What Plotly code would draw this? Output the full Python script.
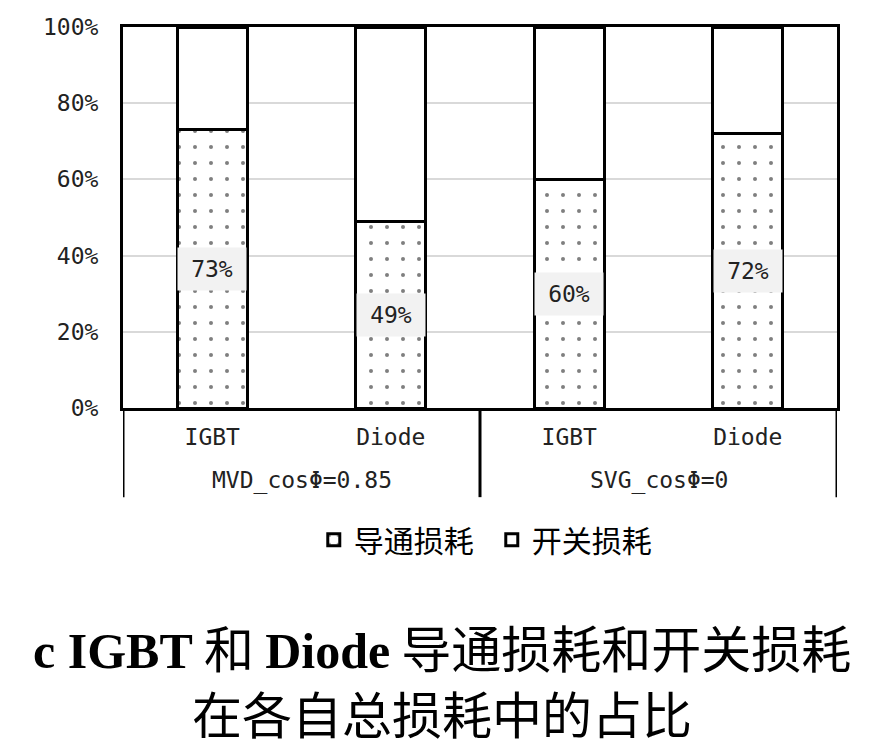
import plotly.graph_objects as go

group_names = ["MVD_cosΦ=0.85", "SVG_cosΦ=0"]
groups = ["MVD_cosΦ=0.85", "MVD_cosΦ=0.85", "SVG_cosΦ=0", "SVG_cosΦ=0"]
devices = ["IGBT", "Diode", "IGBT", "Diode"]
conduction = [0.73, 0.49, 0.60, 0.72]
switching = [0.27, 0.51, 0.40, 0.28]
labels = ["73%", "49%", "60%", "72%"]
series_names = ["导通损耗", "开关损耗"]
title_line1 = ("<span style='font-family:Liberation Serif'><b>c IGBT</b></span> 和 "
               "<span style='font-family:Liberation Serif'><b>Diode</b></span> 导通损耗和开关损耗")
title_line2 = "在各自总损耗中的占比"

mono = "DejaVu Sans Mono, Noto Sans CJK SC"
cjk = "Noto Sans CJK SC"

keys = [g + "|" + d for g, d in zip(groups, devices)]

fig = go.Figure()
fig.add_trace(go.Bar(
    x=keys, y=conduction, name=series_names[0], width=0.39,
    marker=dict(color="white",
                line=dict(color="black", width=3),
                pattern=dict(shape=".", fgcolor="black", bgcolor="white", size=16, solidity=0.05)),
    hoverinfo="skip",
))
fig.add_trace(go.Bar(
    x=keys, y=switching, name=series_names[1], width=0.39,
    marker=dict(color="white", line=dict(color="black", width=3)),
    hoverinfo="skip",
))

for i, (c, t) in enumerate(zip(conduction, labels)):
    fig.add_annotation(x=i, y=c / 2, xref="x", yref="y", text=t, showarrow=False,
                       bgcolor="#f2f2f2", width=64, height=38, borderpad=2,
                       font=dict(family=mono, size=23, color="#222"))

# group labels (second level of the category axis)
n_per_group = 2
for gi, g in enumerate(group_names):
    fig.add_annotation(x=gi * n_per_group + (n_per_group - 1) / 2, y=-0.189,
                       xref="x", yref="paper", text=g, showarrow=False,
                       xanchor="center", yanchor="middle",
                       font=dict(family=mono, size=23, color="#222"))
# group dividers
for b in range(len(group_names) + 1):
    fig.add_shape(type="line", xref="x", yref="paper",
                  x0=b * n_per_group - 0.5, x1=b * n_per_group - 0.5, y0=0, y1=-0.234,
                  line=dict(color="black", width=3))

fig.add_annotation(x=0.447, y=-0.624, xref="paper", yref="paper", text=title_line1,
                   showarrow=False, xanchor="center", yanchor="middle",
                   font=dict(family=cjk, size=50, color="black"))
fig.add_annotation(x=0.447, y=-0.797, xref="paper", yref="paper", text=title_line2,
                   showarrow=False, xanchor="center", yanchor="middle",
                   font=dict(family=cjk, size=50, color="black"))

fig.update_layout(
    width=868, height=747,
    margin=dict(l=115, r=39, t=19, b=347, autoexpand=False),
    paper_bgcolor="white", plot_bgcolor="white",
    barmode="stack",
    showlegend=True,
    legend=dict(orientation="h", x=0.5165, y=-0.346, xanchor="center", yanchor="middle",
                font=dict(family=cjk, size=30, color="black"), traceorder="normal",
                itemwidth=30, entrywidth=133, entrywidthmode="pixels"),
    xaxis=dict(type="category", tickvals=keys, ticktext=devices, range=[-0.5, 3.5],
               showline=True, linecolor="black", linewidth=3, mirror=True,
               tickfont=dict(family=mono, size=23, color="#222"), ticks="",
               ticklabelstandoff=6, automargin=False),
    yaxis=dict(range=[0, 1], dtick=0.2, tickformat=".0%", showline=True,
               linecolor="black", linewidth=3, mirror=True,
               showgrid=True, gridcolor="#d9d9d9", gridwidth=2,
               tickfont=dict(family=mono, size=23, color="#222"),
               ticks="", ticklabelstandoff=17, automargin=False),
)

fig.write_html("out.html")
